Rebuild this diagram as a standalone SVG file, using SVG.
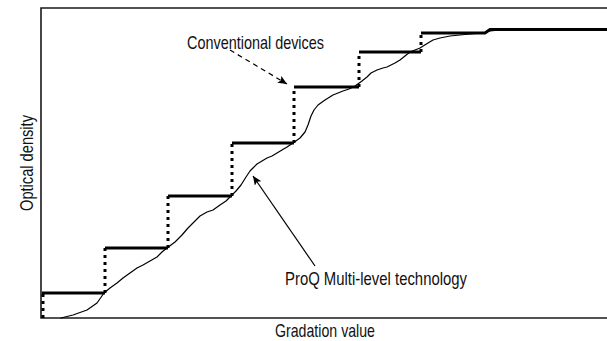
<svg xmlns="http://www.w3.org/2000/svg" width="607" height="341" viewBox="0 0 607 341">
  <style>
    .lbl { font-family: "Liberation Sans", Arial, sans-serif; font-size: 19px; fill: #111; }
    .frame { fill: none; stroke: #1a1a1a; stroke-width: 1.6; }
    .step { fill: none; stroke: #000; stroke-width: 3; stroke-linecap: butt; }
    .rise { fill: none; stroke: #000; stroke-width: 3; stroke-dasharray: 3 4; }
    .curve { fill: none; stroke: #000; stroke-width: 1.2; stroke-linejoin: round; stroke-linecap: round; }
    .lead { fill: none; stroke: #000; stroke-width: 1.2; }
  </style>
  <defs>
    <marker id="head" markerUnits="userSpaceOnUse" markerWidth="12" markerHeight="10" refX="9" refY="4" orient="auto">
      <path d="M0,0 L9,4 L0,8 L2,4 Z" fill="#000"/>
    </marker>
  </defs>

  <rect width="607" height="341" fill="#fff"/>

  <!-- plot frame, open on the right -->
  <g id="axes">
    <path class="frame" d="M607,8 H41 V318 H607"/>
    <text class="lbl" transform="translate(33,163) rotate(-90)" text-anchor="middle" textLength="96" lengthAdjust="spacingAndGlyphs">Optical density</text>
    <text class="lbl" x="325" y="337" text-anchor="middle" textLength="100" lengthAdjust="spacingAndGlyphs">Gradation value</text>
  </g>

  <!-- staircase response of conventional devices -->
  <g id="conventional-steps">
    <path class="rise" d="M43,318 V293 M105,293 V248 M168,248 V196 M232,196 V143 M294,143 V87 M359,87 V52 M421,52 V33"/>
    <path class="step" d="M42,293 H105 M105,248 H168 M168,196 H232 M232,143 H294 M294,87 H359 M359,52 H421 M421,33 H485 L490,29.5 H607"/>
  </g>

  <!-- continuous multi-level response -->
  <g id="multilevel-curve">
    <polyline class="curve" points="61,318 73,315 87,310 97,303 104,293 110,288 117,283 123,278 130,273 137,268 143,265 150,261 157,257 162,252 167,248 175,242 182,235 188,228 193,223 200,216 207,212 213,210 220,205 226,201 230,197 236,191 241,185 246,177 250,171 253,168 257,164 262,161 267,158 272,156 277,153 282,150 287,147 293,143 300,138 305,132 308,125 311,116 314,110 318,105 325,100 333,95 338,93 343,91 349,89 355,86 362,81 367,77 371,73 377,70 383,68 387,67 395,63 400,60 405,56 410,52 415,50 420,48 428,43 433,40 440,38 450,36 460,35 470,34 483,33 490,31 500,30 520,29.5"/>
  </g>

  <!-- callouts -->
  <g id="connectors">
    <line class="lead" x1="230" y1="50" x2="287" y2="84" stroke-dasharray="5 4" marker-end="url(#head)"/>
    <line class="lead" x1="315" y1="266" x2="253" y2="176" marker-end="url(#head)"/>
  </g>

  <g id="label-conventional">
    <text class="lbl" x="187" y="49" textLength="137" lengthAdjust="spacingAndGlyphs">Conventional devices</text>
  </g>
  <g id="label-proq">
    <text class="lbl" x="285" y="285" textLength="182" lengthAdjust="spacingAndGlyphs">ProQ Multi-level technology</text>
  </g>
</svg>
